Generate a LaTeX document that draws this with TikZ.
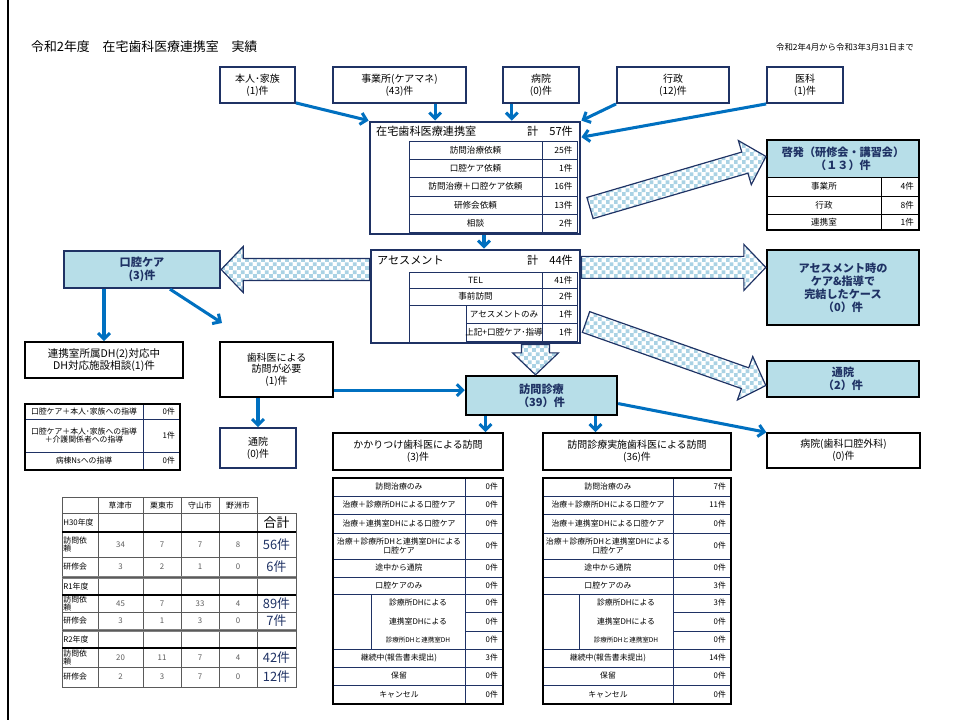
\documentclass[tikz,border=0pt]{standalone}
\usepackage{fontspec}
\setmainfont{Noto Sans CJK JP}
\usetikzlibrary{arrows.meta,calc,patterns}

\definecolor{arrblue}{RGB}{0,112,192}
\definecolor{navy}{RGB}{31,50,100}
\definecolor{lblue}{RGB}{183,222,232}
\definecolor{chkblue}{RGB}{170,210,228}
\definecolor{gridgray}{RGB}{90,90,90}

\def\pxu{0.03cm}
\newcommand{\fTitle}{\fontsize{11}{13}\selectfont}
\newcommand{\fDate}{\fontsize{7.2}{8.5}\selectfont}
\newcommand{\fBox}{\fontsize{8.5}{10}\selectfont}
\newcommand{\fHead}{\fontsize{9.5}{11}\selectfont}
\newcommand{\fRow}{\fontsize{7.3}{8.5}\selectfont}
\newcommand{\fTab}{\fontsize{6.7}{7.6}\selectfont}
\newcommand{\fTiny}{\fontsize{5.6}{6.5}\selectfont}
\newcommand{\fBold}{\fontsize{9.5}{11}\selectfont\bfseries}
\newcommand{\fTot}{\fontsize{11}{12}\selectfont}

% 市松模様 (ブロック矢印の塗り)
\pgfdeclarepatternformonly{ichimatsu}{\pgfpointorigin}{\pgfqpoint{7pt}{7pt}}{\pgfqpoint{7pt}{7pt}}{%
  \pgfpathrectangle{\pgfpointorigin}{\pgfqpoint{3.5pt}{3.5pt}}%
  \pgfpathrectangle{\pgfqpoint{3.5pt}{3.5pt}}{\pgfqpoint{3.5pt}{3.5pt}}%
  \pgfusepath{fill}%
}

% ブロック矢印: [胴の半幅]{始点}{先端}
\newcommand{\chkarrow}[3][0.33cm]{%
  \coordinate (hb) at ($(#3)!0.66cm!(#2)$);
  \draw[chk] ($(#2)!#1!90:(#3)$) -- ($(hb)!#1!90:(#3)$) -- ($(hb)!0.69cm!90:(#3)$)
    -- (#3) -- ($(hb)!0.69cm!-90:(#3)$) -- ($(hb)!#1!-90:(#3)$) -- ($(#2)!#1!-90:(#3)$) -- cycle;
}

\begin{document}
\begin{tikzpicture}[x=0.03cm, y=-0.03cm,
  sz/.style 2 args={minimum width=#1*\pxu, minimum height=#2*\pxu},
  srcbox/.style={draw=navy, line width=1.6pt, fill=white, align=center, font=\fBox, inner sep=0pt},
  blkbox/.style={draw=black, line width=1.6pt, fill=white, align=center, font=\fBox, inner sep=0pt},
  keybox/.style={draw=black, line width=2pt, fill=lblue, align=center, font=\fBold, text=navy, inner sep=0pt},
  bigbox/.style={draw=navy, line width=2.4pt, fill=white, inner sep=0pt},
  cell/.style={draw=navy, line width=0.8pt},
  ycell/.style={draw=gridgray, line width=0.6pt},
  blu/.style={draw=arrblue, line width=2.6pt, -{Straight Barb[length=5pt,width=10pt]}},
  chk/.style={draw=navy, line width=1pt, preaction={fill=white}, pattern=ichimatsu, pattern color=chkblue}]

  \useasboundingbox (0,0) rectangle (955,720);
  % 左端の枠線
  \draw[line width=2.5pt] (8,0) -- (8,720);

  % タイトルと期間
  \node[font=\fTitle, anchor=west] (title) at (27,47) {令和2年度　在宅歯科医療連携室　実績};
  \node[font=\fDate, anchor=east] (period) at (918,47) {令和2年4月から令和3年3月31日まで};

  % 依頼元
  \node[srcbox, sz={75}{36}] (honnin) at (257.5,85) {本人･家族\\(1)件};
  \node[srcbox, sz={133}{36}] (jigyo) at (399.5,85) {事業所(ケアマネ)\\(43)件};
  \node[srcbox, sz={76}{36}] (byoin) at (541,85) {病院\\(0)件};
  \node[srcbox, sz={112}{36}] (gyosei) at (673,85) {行政\\(12)件};
  \node[srcbox, sz={76}{36}] (ika) at (805,85) {医科\\(1)件};

  % 在宅歯科医療連携室 (計57件)
  \node[bigbox, sz={210}{112}] (renkei) at (475,178) {};
  \node[font=\fHead, anchor=west] (renkeiT) at (372,131) {在宅歯科医療連携室};
  \node[font=\fHead, anchor=east] (renkeiN) at (577,131) {計　57件};
  \foreach \yt/\yb/\lab/\val [count=\i] in {141/159/訪問治療依頼/25件, 159/177/口腔ケア依頼/1件,
      177/196/訪問治療＋口腔ケア依頼/16件, 196/214/研修会依頼/13件, 214/232/相談/2件} {
    \draw[cell] (409,\yt) rectangle (542,\yb) (542,\yt) rectangle (577,\yb);
    \node[font=\fRow] (rl\i) at (475.5,{(\yt+\yb)/2}) {\lab};
    \node[font=\fRow, anchor=east] (rv\i) at (576.5,{(\yt+\yb)/2}) {\val};
  }

  % アセスメント (計44件)
  \node[bigbox, sz={209}{93}] (asesu) at (475.5,296.5) {};
  \node[font=\fHead, anchor=west] (asesuT) at (373,260) {アセスメント};
  \node[font=\fHead, anchor=east] (asesuN) at (577,260) {計　44件};
  \foreach \xl/\yt/\yb/\lab/\val [count=\i] in {409/272/288/TEL/41件, 409/288/305/事前訪問/2件,
      466/305/323/アセスメントのみ/1件, 466/323/341/上記+口腔ケア･指導/1件} {
    \draw[cell] (\xl,\yt) rectangle (542,\yb) (542,\yt) rectangle (577,\yb);
    \node[font=\fRow] (al\i) at ({(\xl+542)/2},{(\yt+\yb)/2}) {\lab};
    \node[font=\fRow, anchor=east] (av\i) at (576.5,{(\yt+\yb)/2}) {\val};
  }
  \draw[cell] (409,305) -- (409,343);

  % 啓発 (研修会・講習会)
  \fill[lblue] (767,140) rectangle (919,177);
  \foreach \yt/\yb/\lab/\val [count=\i] in {177/196/事業所/4件, 196/214/行政/8件, 214/230/連携室/1件} {
    \draw[line width=0.7pt] (767,\yt) rectangle (881,\yb) (881,\yt) rectangle (919,\yb);
    \node[font=\fRow] (kh\i) at (824,{(\yt+\yb)/2}) {\lab};
    \node[font=\fRow, anchor=east] (khv\i) at (918,{(\yt+\yb)/2}) {\val};
  }
  \node[draw=black, line width=1.8pt, sz={152}{90}] (keihatsu) at (843,185) {};
  \node[font=\fBold, text=navy, align=center] (keihatsuT) at (843,158.5) {啓発（研修会・講習会）\\（１３）件};

  % 結果の箱
  \node[keybox, draw=navy, sz={156}{37}] (kokucare) at (142,269.5) {口腔ケア\\(3)件};
  \node[keybox, sz={152}{75}] (asesukan) at (843,287.5) {アセスメント時の\\ケア\&指導で\\完結したケース\\（0）件};
  \node[keybox, sz={152}{36}] (tsuin2) at (843,379) {通院\\（2）件};
  \node[keybox, sz={151}{39}] (houmon) at (541.5,395.5) {訪問診療\\（39）件};

  \node[blkbox, sz={158}{36}, font=\fontsize{9}{10.5}\selectfont] (dhbox) at (104,360) {連携室所属DH(2)対応中\\DH対応施設相談(1)件};
  \node[blkbox, sz={113}{55}] (shikai) at (276.5,369.5) {歯科医による\\訪問が必要\\(1)件};
  \node[srcbox, sz={76}{40}] (tsuin0) at (258,448) {通院\\(0)件};
  \node[blkbox, sz={153}{35}, line width=1.2pt] (byoin2) at (843.5,450.5) {病院(歯科口腔外科)\\(0)件};
  \node[blkbox, sz={170}{37}] (kakari) at (418,451.5) {かかりつけ歯科医による訪問\\(3)件};
  \node[blkbox, sz={188}{37}] (jisshi) at (637,451.5) {訪問診療実施歯科医による訪問\\(36)件};

  % 口腔ケアの内訳
  \foreach \yt/\yb/\lab/\val [count=\i] in {404/419/口腔ケア＋本人･家族への指導/0件,
      419/452/{口腔ケア＋本人･家族への指導\\＋介護関係者への指導}/1件, 452/470/病棟Nsへの指導/0件} {
    \draw[cell] (25,\yt) rectangle (143,\yb) (143,\yt) rectangle (180,\yb);
    \node[font=\fTab, align=center] (cl\i) at (84,{(\yt+\yb)/2}) {\lab};
    \node[font=\fTab, anchor=east] (cv\i) at (179,{(\yt+\yb)/2}) {\val};
  }
  \draw[line width=1.5pt] (25,404) rectangle (180,470);

  % 訪問の内訳 (かかりつけ / 訪問診療実施)
  \foreach \yt/\yb/\lab/\va/\vb [count=\i] in {478/496/訪問治療のみ/0/7, 496/514/治療＋診療所DHによる口腔ケア/0/11,
      514/533/治療＋連携室DHによる口腔ケア/0/0, 533/559/{治療＋診療所DHと連携室DHによる\\口腔ケア}/0/0,
      559/577/途中から通院/0/0, 577/594/口腔ケアのみ/0/3, 649/667/継続中(報告書未提出)/3/14,
      667/685/保留/0/0, 685/704/キャンセル/0/0} {
    \draw[cell] (333,\yt) rectangle (465,\yb) (465,\yt) rectangle (503,\yb);
    \draw[cell] (543,\yt) rectangle (673,\yb) (673,\yt) rectangle (731,\yb);
    \node[font=\fTab, align=center] (ka\i) at (399,{(\yt+\yb)/2}) {\lab};
    \node[font=\fTab, anchor=east] (kv\i) at (502,{(\yt+\yb)/2}) {\va{}件};
    \node[font=\fTab, align=center] (ja\i) at (608,{(\yt+\yb)/2}) {\lab};
    \node[font=\fTab, anchor=east] (jv\i) at (730,{(\yt+\yb)/2}) {\vb{}件};
  }
  % 口腔ケアのみの内訳
  \draw[cell] (371,594) rectangle (465,649) (579,594) rectangle (673,649);
  \foreach \yt/\yb/\lab/\va/\vb [count=\i] in {594/612/診療所DHによる/0/3, 612/631/連携室DHによる/0/0,
      631/649/{\fTiny 診療所DHと連携室DH}/0/0} {
    \draw[cell] (465,\yt) rectangle (503,\yb) (673,\yt) rectangle (731,\yb);
    \node[font=\fTab] (ks\i) at (418,{(\yt+\yb)/2}) {\lab};
    \node[font=\fTab, anchor=east] (ksv\i) at (502,{(\yt+\yb)/2}) {\va{}件};
    \node[font=\fTab] (js\i) at (626,{(\yt+\yb)/2}) {\lab};
    \node[font=\fTab, anchor=east] (jsv\i) at (730,{(\yt+\yb)/2}) {\vb{}件};
  }
  \draw[line width=1.6pt] (333,478) rectangle (503,704) (543,478) rectangle (731,704);

  % 年度別の件数表
  \draw[ycell] (62,497) rectangle (98,513);
  \foreach \xl/\xr/\lab [count=\i] in {98/143/草津市, 143/181/栗東市, 181/219/守山市, 219/257/野洲市} {
    \draw[ycell] (\xl,497) rectangle (\xr,513);
    \node[font=\fTab] (city\i) at ({(\xl+\xr)/2},505) {\lab};
  }
  \foreach \yt/\yb/\lab [count=\i] in {513/532/H30年度, 577/595/R1年度, 630/648/R2年度} {
    \foreach \xl/\xr in {62/98, 98/143, 143/181, 181/219, 219/257, 257/296}
      \draw[ycell] (\xl,\yt) rectangle (\xr,\yb);
    \node[font=\fTab, anchor=west, inner sep=1pt] (yr\i) at (62,{(\yt+\yb)/2}) {\lab};
  }
  \node[font=\fTot] (goukei) at (276.5,522.5) {合計};
  \foreach \yt/\yb/\lab/\va/\vb/\vc/\vd/\tot [count=\i] in {532/557/{訪問依\\頼}/34/7/7/8/56件,
      557/577/研修会/3/2/1/0/6件, 595/612/{訪問依\\頼}/45/7/33/4/89件, 612/630/研修会/3/1/3/0/7件,
      648/667/{訪問依\\頼}/20/11/7/4/42件, 667/687/研修会/2/3/7/0/12件} {
    \foreach \xl/\xr in {62/98, 98/143, 143/181, 181/219, 219/257, 257/296}
      \draw[ycell] (\xl,\yt) rectangle (\xr,\yb);
    \node[font=\fTab, anchor=west, align=left, inner sep=1pt] (yl\i) at (62,{(\yt+\yb)/2}) {\lab};
    \node[font=\fTab, text=gridgray] (ya\i) at (120.5,{(\yt+\yb)/2}) {\va};
    \node[font=\fTab, text=gridgray] (yb\i) at (162,{(\yt+\yb)/2}) {\vb};
    \node[font=\fTab, text=gridgray] (yc\i) at (200,{(\yt+\yb)/2}) {\vc};
    \node[font=\fTab, text=gridgray] (yd\i) at (238,{(\yt+\yb)/2}) {\vd};
    \node[font=\fTot, text=navy] (ytot\i) at (276.5,{(\yt+\yb)/2}) {\tot};
  }
  \draw[line width=1.6pt] (62,532) -- (296,532) (62,595) -- (296,595) (62,648) -- (296,648);
  \draw[gray, line width=0.7pt] (62,576) -- (296,576) (62,578.5) -- (296,578.5)
    (62,629) -- (296,629) (62,631.5) -- (296,631.5);

  % 依頼元から連携室への矢印
  \draw[blu] (honnin.-25) -- (renkei.north west);
  \draw[blu] (jigyo.-28) -- (jigyo.-28 |- renkei.north);
  \draw[blu] (byoin.-147) -- (byoin.-147 |- renkei.north);
  \draw[blu] (gyosei.south west) -- (renkei.north east);
  \draw[blu] (ika.south west) -- (renkei.21);
  \coordinate (r2a) at ([xshift=9*\pxu]renkei.south);
  \draw[blu] (r2a) -- (r2a |- asesu.north);

  % 口腔ケアから
  \draw[blu] (kokucare.south -| dhbox.north) -- (dhbox.north);
  \coordinate (kc1) at ([xshift=28*\pxu]kokucare.south);
  \coordinate (kc2) at (222,323);
  \draw[blu] (kc1) -- (kc2);
  \draw[blu] (shikai.east |- houmon.176) -- (houmon.176);
  \draw[blu] (tsuin0.north |- shikai.south) -- (tsuin0.north);

  % 訪問診療から
  \coordinate (h1) at ([xshift=-56*\pxu]houmon.south);
  \draw[blu] (h1) -- (h1 |- kakari.north);
  \coordinate (h2) at ([xshift=54*\pxu]houmon.south);
  \draw[blu] (h2) -- (h2 |- jisshi.north);
  \draw[blu] (houmon.-6) -- (byoin2.north west);

  % 市松模様のブロック矢印
  \coordinate (a1s) at (590,208);
  \coordinate (a1e) at ($(keihatsu.north west)!0.19!(keihatsu.south west)$);
  \chkarrow{a1s}{a1e}
  \coordinate (a2s) at (asesu.west |- kokucare.east);
  \chkarrow{a2s}{kokucare.east}
  \coordinate (a3e) at ($(asesukan.north west)!0.24!(asesukan.south west)$);
  \coordinate (a3s) at (asesu.east |- a3e);
  \chkarrow{a3s}{a3e}
  \coordinate (a4s) at (586,322);
  \coordinate (a4e) at ($(tsuin2.north west)!0.67!(tsuin2.south west)$);
  \chkarrow{a4s}{a4e}
  \coordinate (a5e) at ([xshift=-6*\pxu]houmon.north);
  \coordinate (a5s) at (a5e |- asesu.south);
  \chkarrow[0.42cm]{a5s}{a5e}

\end{tikzpicture}
\end{document}
